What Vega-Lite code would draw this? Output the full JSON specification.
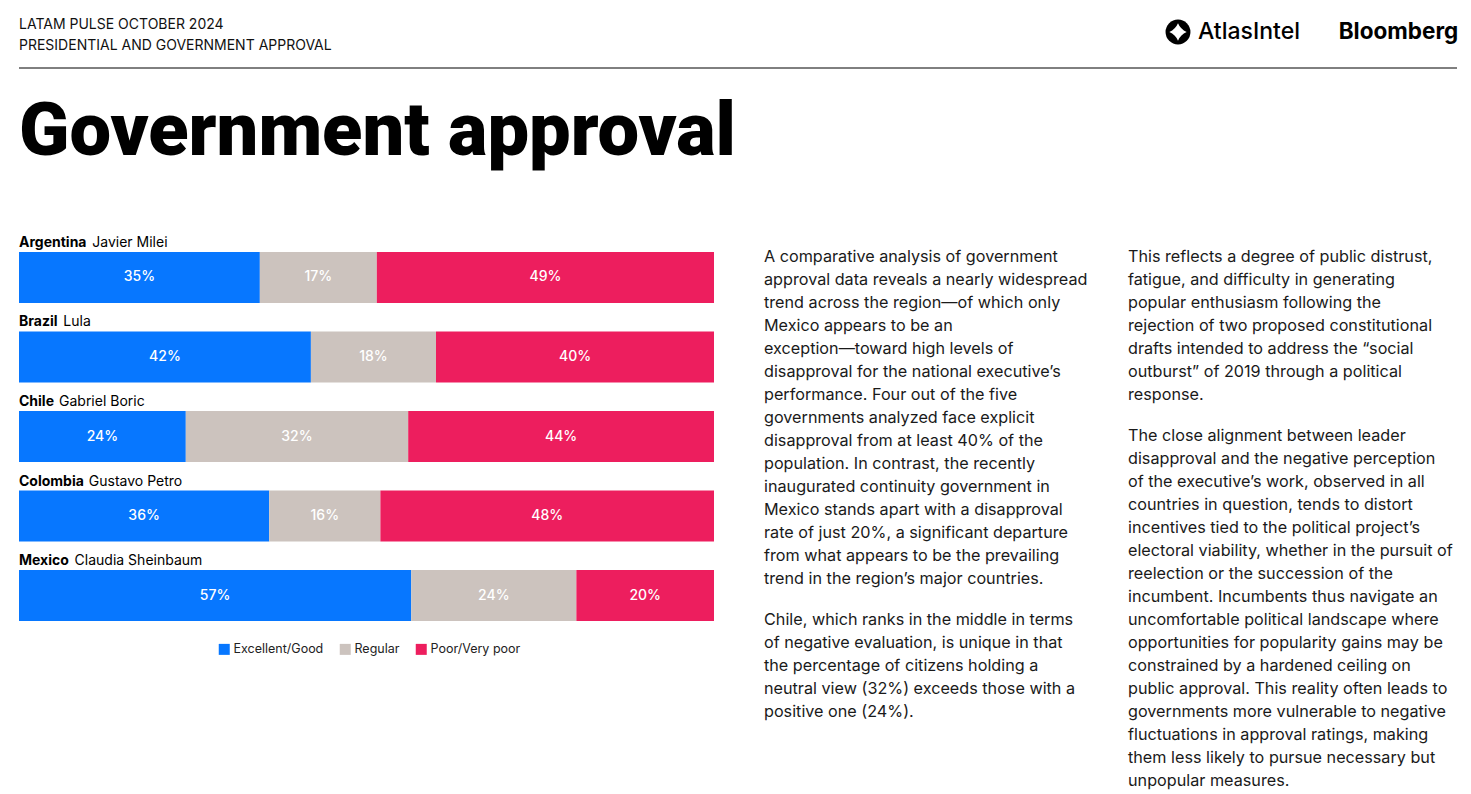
{
  "$schema": "https://vega.github.io/schema/vega-lite/v6.json",
  "background": "white",
  "padding": {"left": 18, "top": 18, "right": 0, "bottom": 0},
  "config": {"view": {"stroke": null}, "font": "Inter"},
  "spacing": 26,
  "vconcat": [
    {
      "spacing": 14,
      "vconcat": [
        {
          "spacing": 0,
          "hconcat": [
            {
              "width": 1145,
              "height": 28,
              "data": {"values": [{"t": "LATAM PULSE OCTOBER 2024\nPRESIDENTIAL AND GOVERNMENT APPROVAL"}]},
              "mark": {"type": "text", "align": "left", "baseline": "top", "lineBreak": "\n", "lineHeight": 20.5, "fontSize": 14, "font": "Inter", "color": "#111111"},
              "encoding": {
                "x": {"datum": 0, "type": "quantitative", "scale": {"domain": [0, 1]}, "axis": null},
                "y": {"datum": 1, "type": "quantitative", "scale": {"domain": [0, 1]}, "axis": null},
                "text": {"field": "t"}
              }
            },
            {
              "width": 28,
              "height": 28,
              "data": {"values": [{"logo": "AtlasIntel"}]},
              "layer": [
                {"mark": {"type": "point", "shape": "circle", "filled": true, "color": "black", "opacity": 1, "size": 620}},
                {"mark": {"type": "point", "shape": "M0,-1Q0.3,-0.3,1,0Q0.3,0.3,0,1Q-0.3,0.3,-1,0Q-0.3,-0.3,0,-1Z", "filled": true, "color": "white", "opacity": 1, "size": 300}}
              ]
            },
            {
              "width": 146,
              "height": 28,
              "data": {"values": [{"t": "AtlasIntel"}]},
              "mark": {"type": "text", "fontSize": 23, "fontWeight": 500, "dx": -16, "baseline": "middle", "color": "black", "font": "Inter"},
              "encoding": {"text": {"field": "t"}}
            },
            {
              "width": 119,
              "height": 28,
              "data": {"values": [{"t": "Bloomberg"}]},
              "mark": {"type": "text", "fontSize": 22.5, "fontWeight": "bold", "baseline": "middle", "color": "black", "font": "Inter"},
              "encoding": {"text": {"field": "t"}}
            }
          ]
        },
        {
          "width": 1438,
          "height": 1,
          "data": {"values": [{}]},
          "mark": {"type": "rule", "color": "black", "strokeWidth": 1},
          "encoding": {"y": {"datum": 0, "type": "quantitative", "scale": {"domain": [0, 1]}, "axis": null}}
        }
      ]
    },
    {
      "title": {"text": "Government approval", "anchor": "start", "frame": "group", "orient": "top", "fontSize": 74, "fontWeight": 900, "font": "Roboto", "color": "black", "offset": 65},
      "spacing": 50,
      "resolve": {"scale": {"color": "independent"}, "legend": {"color": "independent"}},
      "hconcat": [
        {
          "width": 695,
          "height": 375,
          "data": {"values": [
            {"country": "Argentina", "leader": "Javier Milei", "rating": "Excellent/Good", "k": 1, "value": 0.35},
            {"country": "Argentina", "leader": "Javier Milei", "rating": "Regular", "k": 2, "value": 0.17},
            {"country": "Argentina", "leader": "Javier Milei", "rating": "Poor/Very poor", "k": 3, "value": 0.49},
            {"country": "Brazil", "leader": "Lula", "rating": "Excellent/Good", "k": 1, "value": 0.42},
            {"country": "Brazil", "leader": "Lula", "rating": "Regular", "k": 2, "value": 0.18},
            {"country": "Brazil", "leader": "Lula", "rating": "Poor/Very poor", "k": 3, "value": 0.40},
            {"country": "Chile", "leader": "Gabriel Boric", "rating": "Excellent/Good", "k": 1, "value": 0.24},
            {"country": "Chile", "leader": "Gabriel Boric", "rating": "Regular", "k": 2, "value": 0.32},
            {"country": "Chile", "leader": "Gabriel Boric", "rating": "Poor/Very poor", "k": 3, "value": 0.44},
            {"country": "Colombia", "leader": "Gustavo Petro", "rating": "Excellent/Good", "k": 1, "value": 0.36},
            {"country": "Colombia", "leader": "Gustavo Petro", "rating": "Regular", "k": 2, "value": 0.16},
            {"country": "Colombia", "leader": "Gustavo Petro", "rating": "Poor/Very poor", "k": 3, "value": 0.48},
            {"country": "Mexico", "leader": "Claudia Sheinbaum", "rating": "Excellent/Good", "k": 1, "value": 0.57},
            {"country": "Mexico", "leader": "Claudia Sheinbaum", "rating": "Regular", "k": 2, "value": 0.24},
            {"country": "Mexico", "leader": "Claudia Sheinbaum", "rating": "Poor/Very poor", "k": 3, "value": 0.20}
          ]},
          "encoding": {
            "y": {"field": "country", "type": "nominal", "sort": null, "axis": null, "scale": {"paddingInner": 0.3585, "paddingOuter": 0.0377}}
          },
          "layer": [
            {
              "mark": {"type": "bar"},
              "encoding": {
                "x": {"field": "value", "type": "quantitative", "stack": "normalize", "axis": null},
                "color": {
                  "field": "rating", "type": "nominal",
                  "scale": {"domain": ["Excellent/Good", "Regular", "Poor/Very poor"], "range": ["#0777FF", "#CCC3BE", "#ED1E5E"]},
                  "legend": {"title": null, "orient": "none", "legendX": 199, "legendY": 394, "direction": "horizontal", "symbolType": "square", "symbolSize": 121, "symbolStrokeWidth": 0, "symbolOpacity": 1, "labelFontSize": 12.5, "labelFont": "Inter", "labelColor": "#222222", "columnPadding": 15, "labelOffset": 3}
                },
                "order": {"field": "k", "type": "quantitative"}
              }
            },
            {
              "mark": {"type": "text", "color": "white", "fontSize": 14, "fontWeight": 500, "baseline": "middle", "font": "Inter"},
              "encoding": {
                "x": {"field": "value", "type": "quantitative", "stack": "normalize", "bandPosition": 0.5},
                "detail": {"field": "rating"},
                "order": {"field": "k", "type": "quantitative"},
                "text": {"field": "value", "type": "quantitative", "format": ".0%"}
              }
            },
            {
              "transform": [{"filter": "datum.k == 1"}],
              "mark": {"type": "text", "align": "left", "baseline": "alphabetic", "dy": -5, "fontSize": 14, "fontWeight": "bold", "color": "black", "font": "Inter"},
              "encoding": {
                "x": {"datum": 0, "type": "quantitative"},
                "y": {"field": "country", "type": "nominal", "sort": null, "axis": null, "bandPosition": 0},
                "text": {"field": "country"}
              }
            },
            {
              "transform": [{"filter": "datum.k == 1"}],
              "mark": {"type": "text", "align": "left", "baseline": "alphabetic", "dy": -5, "dx": {"expr": "length(datum.country) * 8.6 - 4.5 * (length(datum.country) - length(replace(datum.country, regexp('[ilj]', 'g'), ''))) - 2.8 * (length(datum.country) - length(replace(datum.country, regexp('[rtf]', 'g'), ''))) + 4 * (length(datum.country) - length(replace(datum.country, regexp('[mMwW]', 'g'), ''))) + 1.5 * (length(datum.country) - length(replace(datum.country, regexp('[ACGOQD]', 'g'), ''))) + 4.5"}, "fontSize": 14, "color": "black", "font": "Inter"},
              "encoding": {
                "x": {"datum": 0, "type": "quantitative"},
                "y": {"field": "country", "type": "nominal", "sort": null, "axis": null, "bandPosition": 0},
                "text": {"field": "leader"}
              }
            }
          ]
        },
        {
          "spacing": 35,
          "hconcat": [
            {
              "spacing": 24,
              "vconcat": [
                {
                  "width": 329,
                  "height": 1,
                  "data": {"values": [{"t": "A comparative analysis of government\napproval data reveals a nearly widespread\ntrend across the region—of which only\nMexico appears to be an\nexception—toward high levels of\ndisapproval for the national executive’s\nperformance. Four out of the five\ngovernments analyzed face explicit\ndisapproval from at least 40% of the\npopulation. In contrast, the recently\ninaugurated continuity government in\nMexico stands apart with a disapproval\nrate of just 20%, a significant departure\nfrom what appears to be the prevailing\ntrend in the region’s major countries."}]},
                  "mark": {"type": "text", "align": "left", "baseline": "top", "lineBreak": "\n", "lineHeight": 23, "fontSize": 16.2, "font": "Inter", "color": "#1a1a1a"},
                  "encoding": {
                    "x": {"datum": 0, "type": "quantitative", "scale": {"domain": [0, 1]}, "axis": null},
                    "y": {"datum": 1, "type": "quantitative", "scale": {"domain": [0, 1]}, "axis": null},
                    "text": {"field": "t"}
                  }
                },
                {
                  "width": 329,
                  "height": 1,
                  "data": {"values": [{"t": "Chile, which ranks in the middle in terms\nof negative evaluation, is unique in that\nthe percentage of citizens holding a\nneutral view (32%) exceeds those with a\npositive one (24%)."}]},
                  "mark": {"type": "text", "align": "left", "baseline": "top", "lineBreak": "\n", "lineHeight": 23, "fontSize": 16.2, "font": "Inter", "color": "#1a1a1a"},
                  "encoding": {
                    "x": {"datum": 0, "type": "quantitative", "scale": {"domain": [0, 1]}, "axis": null},
                    "y": {"datum": 1, "type": "quantitative", "scale": {"domain": [0, 1]}, "axis": null},
                    "text": {"field": "t"}
                  }
                }
              ]
            },
            {
              "spacing": 24,
              "vconcat": [
                {
                  "width": 329,
                  "height": 1,
                  "data": {"values": [{"t": "This reflects a degree of public distrust,\nfatigue, and difficulty in generating\npopular enthusiasm following the\nrejection of two proposed constitutional\ndrafts intended to address the “social\noutburst” of 2019 through a political\nresponse."}]},
                  "mark": {"type": "text", "align": "left", "baseline": "top", "lineBreak": "\n", "lineHeight": 23, "fontSize": 16.2, "font": "Inter", "color": "#1a1a1a"},
                  "encoding": {
                    "x": {"datum": 0, "type": "quantitative", "scale": {"domain": [0, 1]}, "axis": null},
                    "y": {"datum": 1, "type": "quantitative", "scale": {"domain": [0, 1]}, "axis": null},
                    "text": {"field": "t"}
                  }
                },
                {
                  "width": 329,
                  "height": 1,
                  "data": {"values": [{"t": "The close alignment between leader\ndisapproval and the negative perception\nof the executive’s work, observed in all\ncountries in question, tends to distort\nincentives tied to the political project’s\nelectoral viability, whether in the pursuit of\nreelection or the succession of the\nincumbent. Incumbents thus navigate an\nuncomfortable political landscape where\nopportunities for popularity gains may be\nconstrained by a hardened ceiling on\npublic approval. This reality often leads to\ngovernments more vulnerable to negative\nfluctuations in approval ratings, making\nthem less likely to pursue necessary but\nunpopular measures."}]},
                  "mark": {"type": "text", "align": "left", "baseline": "top", "lineBreak": "\n", "lineHeight": 23, "fontSize": 16.2, "font": "Inter", "color": "#1a1a1a"},
                  "encoding": {
                    "x": {"datum": 0, "type": "quantitative", "scale": {"domain": [0, 1]}, "axis": null},
                    "y": {"datum": 1, "type": "quantitative", "scale": {"domain": [0, 1]}, "axis": null},
                    "text": {"field": "t"}
                  }
                }
              ]
            }
          ]
        }
      ]
    }
  ]
}
